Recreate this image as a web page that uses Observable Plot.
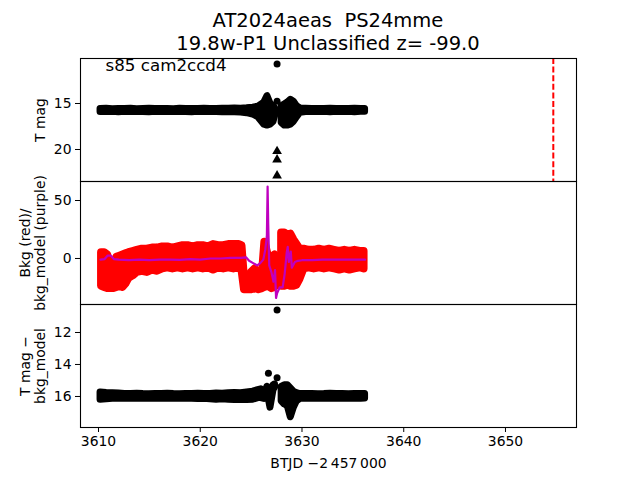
<!DOCTYPE html>
<html><head><meta charset="utf-8">
<script src="https://cdn.jsdelivr.net/npm/d3@7"></script>
<script src="https://cdn.jsdelivr.net/npm/@observablehq/plot@0.6"></script>
<style>
body{margin:0;background:#fff;}
#c{position:relative;width:640px;height:480px;background:#fff;font-family:"DejaVu Sans",sans-serif;overflow:hidden;}
#title{position:absolute;left:80px;width:496px;top:9px;text-align:center;font-size:19.5px;line-height:23px;white-space:pre;color:#000;}
#c svg{position:absolute;left:0;overflow:visible;}
</style></head><body><div id="c"><div id="title">AT2024aeas  PS24mme
19.8w-P1 Unclassified z= -99.0</div></div>
<script>
// ---- data ----
const xTicks = [3610, 3620, 3630, 3640, 3650];
const dashT = 3654.7;
const gapT = 3627.6; // orbit gap in the light curve

// time bins for the black bands (top and bottom panels)
const bandT = [3610.2, 3610.8, 3611.4, 3612.0, 3612.6, 3613.2, 3613.8, 3614.4, 3615.0, 3615.6,
  3616.2, 3616.8, 3617.4, 3618.0, 3618.6, 3619.2, 3619.8, 3620.4, 3621.0, 3621.6,
  3622.2, 3622.8, 3623.4, 3624.0, 3624.6, 3625.2,
  3625.7, 3626.0, 3626.3, 3626.6, 3626.9, 3627.2, 3627.35,
  3628.0, 3628.3, 3628.6, 3628.9, 3629.2, 3629.5, 3629.85,
  3630.4, 3631.0, 3631.6, 3632.2, 3632.8, 3633.4, 3634.0, 3634.6, 3635.2, 3635.8, 3636.2];

// top panel: T mag
const topLo = [15.6,15.58,15.62,15.59,15.61,15.58,15.62,15.6,15.58,15.61,
  15.59,15.6,15.62,15.58,15.61,15.59,15.6,15.58,15.61,15.59,
  15.56,15.58,15.55,15.56,15.52,15.45,
  15.35,15.15,14.9,14.2,15.0,15.3,15.5,
  15.3,15.1,14.9,14.6,14.8,15.3,15.55,
  15.58,15.61,15.59,15.6,15.58,15.61,15.59,15.6,15.58,15.61,15.6];
const topHi = [15.93,15.92,15.9,15.94,15.91,15.93,15.9,15.92,15.94,15.91,
  15.93,15.9,15.92,15.91,15.93,15.94,15.91,15.93,15.9,15.93,
  15.96,15.94,15.96,15.98,16.05,16.2,
  16.5,16.9,17.3,17.4,17.3,17.0,16.4,
  17.1,17.4,17.4,17.3,17.0,16.5,16.0,
  15.93,15.91,15.93,15.91,15.94,15.91,15.93,15.91,15.94,15.91,15.91];
const topDotT = [3627.55, 3627.55];
const topDotM = [10.7, 14.75];
const limT = [3627.55, 3627.55, 3627.55];
const limM = [20.2, 21.1, 22.85];

// middle panel: background (red) envelope and bkg_model (purple)
const midT = [3610.3,3610.6,3610.9,3611.2,3611.5,3611.8,3612.1,3612.4,3612.7,3613.0,
  3613.4,3613.8,3614.3,3614.8,3615.3,3615.8,3616.3,3616.8,3617.3,3617.8,
  3618.3,3618.8,3619.3,3619.8,3620.3,3620.8,3621.3,3621.8,3622.3,3622.8,
  3623.3,3623.8,3624.1,3624.35,3624.7,3625.05,3625.4,3625.75,3626.1,3626.35,
  3626.7,3627.05,3627.35,3628.0,3628.3,3628.6,3628.9,3629.2,3629.5,3629.8,
  3630.2,3630.7,3631.2,3631.7,3632.2,3632.7,3633.2,3633.7,3634.2,3634.7,
  3635.2,3635.7,3636.1];
const midHi = [5,5,3,-7,-8,1,2,3,4,5,
  6,7,8,8,9,9,10,10,9,10,
  11,11,10,11,11,10,12,11,11,12,
  12,12,11,-18,-19,-12,-9,-17,-15,14,
  2,1,3,22,22,20,21,16,12,8,
  8,7,7,8,7,8,7,6,7,6,
  7,6,6];
const midLo = [-24,-25,-26,-26,-26,-25,-24,-25,-22,-17,
  -15,-12,-11,-12,-10,-11,-9,-8,-9,-8,
  -9,-8,-9,-8,-9,-8,-10,-8,-9,-8,
  -9,-8,-10,-27,-27,-27,-26,-27,-26,-25,
  -24,-26,-25,-24,-24,-23,-24,-24,-23,-18,
  -9,-8,-9,-8,-9,-8,-9,-10,-9,-10,
  -9,-8,-9];
const purpT = [3610.2,3610.6,3610.9,3611.2,3611.5,3612.0,3613.0,3614.0,3615.0,3616.0,
  3617.0,3618.0,3619.0,3620.0,3621.0,3622.0,3623.0,3624.0,3624.5,3624.8,
  3625.2,3625.6,3625.9,3626.2,3626.4,3626.55,3626.62,3626.68,3626.78,3627.0,
  3627.2,3627.35,3627.45,3627.55,3627.8,3628.1,3628.3,3628.5,3628.6,3628.7,
  3628.9,3629.0,3629.3,3629.6,3630.0,3631.0,3632.0,3633.0,3634.0,3635.0,3636.2];
const purpV = [-1,-0.5,2.5,2.5,-0.5,-1,-1.5,-1,-1.5,-1,
  -1,-1.2,-0.5,-1,0,0,0.5,0.5,1,-2,
  -4,-6,-4,-1,8,20,62,30,-6,-12,
  -20,-10,-34,-30,-25,-25,-13,5,10,-3,
  6,-8,-3,-2,-1.5,-1.5,-1,-1,-1,-1,-1];

// bottom panel: T mag - bkg_model
const botLo = [15.75,15.78,15.8,15.82,15.84,15.85,15.83,15.85,15.86,15.84,
  15.85,15.83,15.85,15.86,15.84,15.85,15.83,15.85,15.84,15.82,
  15.83,15.8,15.78,15.8,15.75,15.7,
  15.6,15.55,15.85,15.4,15.6,15.3,15.25,
  15.4,15.3,15.3,15.5,15.7,15.8,15.85,
  15.85,15.84,15.86,15.85,15.83,15.85,15.84,15.86,15.85,15.84,15.85];
const botHi = [16.2,16.18,16.15,16.14,16.12,16.15,16.13,16.14,16.12,16.15,
  16.13,16.14,16.12,16.15,16.13,16.14,16.16,16.15,16.18,16.2,
  16.18,16.2,16.22,16.2,16.22,16.2,
  16.1,16.1,16.15,15.7,16.7,15.6,15.45,
  16.3,16.5,16.6,17.3,16.7,16.3,16.15,
  16.14,16.15,16.13,16.14,16.15,16.13,16.14,16.15,16.13,16.14,16.12];
const botDotT = [3626.7, 3627.55, 3627.55];
const botDotM = [14.55, 14.83, 10.6];

// ---- rows ----
const seg = t => (t < gapT ? "a" : "b");
const topRows = bandT.map((t, i) => ({t, lo: topLo[i], hi: topHi[i], s: seg(t)}));
const botRows = bandT.map((t, i) => ({t, lo: botLo[i], hi: botHi[i], s: seg(t)}));
const midRows = midT.map((t, i) => ({t, lo: midLo[i], hi: midHi[i], s: seg(t)}));
const purpRows = purpT.map((t, i) => ({t, v: purpV[i]}));
const topDots = topDotT.map((t, i) => ({t, m: topDotM[i]}));
const limRows = limT.map((t, i) => ({t, m: limM[i]}));
const botDots = botDotT.map((t, i) => ({t, m: botDotM[i]}));

const FONT = "DejaVu Sans";
const FS = 13.9;
const xDomain = [3608.23, 3656.98];
const style = {fontSize: FS + "px", fontFamily: FONT, background: "transparent", overflow: "visible", color: "black"};
const PH = 123;

function band(rows, color, w) {
  return Plot.areaY(rows, {x: "t", y1: "lo", y2: "hi", z: "s", fill: color, stroke: color, strokeWidth: w,
    strokeLinejoin: "round", strokeLinecap: "round", clip: true});
}
function ylab(txt, dx) {
  return Plot.text([txt], {frameAnchor: "left", dx, rotate: -90, textAnchor: "middle", lineAnchor: "middle", fontSize: FS, fontFamily: FONT, fill: "black"});
}

const p1 = Plot.plot({
  width: 640, height: PH, marginLeft: 80, marginRight: 64, marginTop: 0, marginBottom: 0, style,
  x: {domain: xDomain, axis: null},
  y: {domain: [23.48, 10.11], ticks: [15, 20], tickSize: 5, tickPadding: 4, label: null},
  marks: [
    band(topRows, "black", 7),
    Plot.dot(topDots, {x: "t", y: "m", r: 3.5, fill: "black", stroke: "none"}),
    Plot.dot(limRows, {x: "t", y: "m", symbol: "triangle", r: 3.6, fill: "black", stroke: "none"}),
    Plot.ruleX([dashT], {stroke: "#ff0000", strokeWidth: 2, strokeDasharray: "6,2.6"}),
    Plot.text(["s85 cam2ccd4"], {frameAnchor: "top-left", dx: 25, dy: 12, textAnchor: "start", lineAnchor: "bottom", fontSize: 16.7, fontFamily: FONT, fill: "black"}),
    ylab("T mag", -40),
    Plot.frame({stroke: "black", strokeWidth: 1.1})
  ]
});
p1.style.top = "58px";

const p2 = Plot.plot({
  width: 640, height: PH, marginLeft: 80, marginRight: 64, marginTop: 0, marginBottom: 0, style,
  x: {domain: xDomain, axis: null},
  y: {domain: [-39.7, 66.4], ticks: [0, 50], tickSize: 5, tickPadding: 4, label: null},
  marks: [
    band(midRows, "#ff0000", 8),
    Plot.line(purpRows, {x: "t", y: "v", stroke: "#bf00bf", strokeWidth: 2.2, clip: true}),
    ylab("Bkg (red)/", -55),
    ylab("bkg_model (purple)", -40),
    Plot.frame({stroke: "black", strokeWidth: 1.1})
  ]
});
p2.style.top = "181px";

const p3 = Plot.plot({
  width: 640, height: PH + 53, marginLeft: 80, marginRight: 64, marginTop: 0, marginBottom: 53, style,
  x: {domain: xDomain, ticks: xTicks, tickFormat: d3.format("d"), tickSize: 5, tickPadding: 4, label: null},
  y: {domain: [17.94, 10.25], ticks: [12, 14, 16], tickSize: 5, tickPadding: 4, label: null},
  marks: [
    band(botRows, "black", 7),
    Plot.dot(botDots, {x: "t", y: "m", r: 3.5, fill: "black", stroke: "none"}),
    ylab("T mag \u2212", -55),
    ylab("bkg_model", -40),
    Plot.text(["BTJD \u22122\u2009457\u2009000"], {frameAnchor: "bottom", dy: 36, textAnchor: "middle", lineAnchor: "middle", fontSize: FS, fontFamily: FONT, fill: "black"}),
    Plot.frame({stroke: "black", strokeWidth: 1.1})
  ]
});
p3.style.top = "304px";

const c = document.getElementById("c");
c.appendChild(p1); c.appendChild(p2); c.appendChild(p3);
</script></body></html>
